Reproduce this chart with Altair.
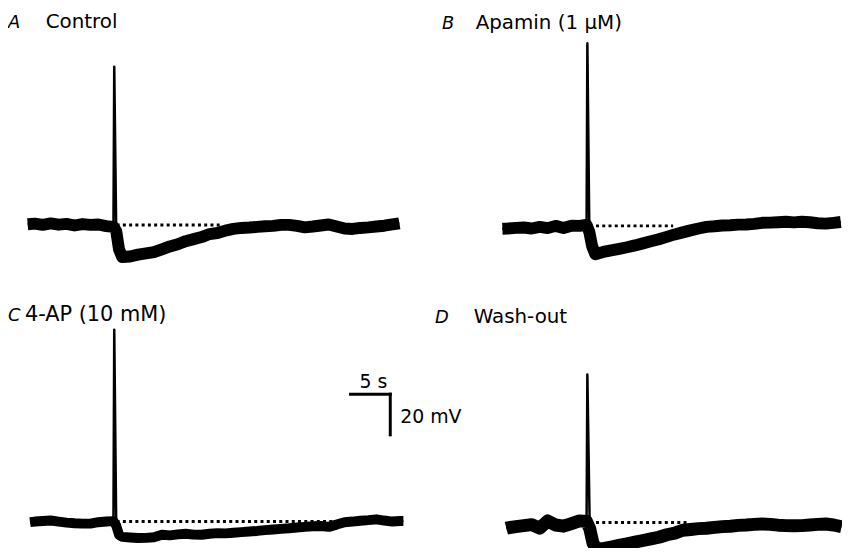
import altair as alt
import pandas as pd

# ---------------- values ----------------
# time in s relative to the spike, membrane potential in mV relative to rest
A_t = [-10.9, -10, -9, -8, -7, -6, -5, -4, -3, -2, -1, -0.1, 0, 0.25, 0.6,
       1, 2, 3, 4, 5, 6, 7, 8, 9, 10, 11, 12, 13, 14, 15, 16, 17, 18, 19, 20,
       21, 22, 23, 24, 25, 26, 27, 28, 29, 30, 31, 32, 33, 34, 35, 35.9]
A_v = [0.3, 0.6, 0, 0.7, 0.1, 0.5, -0.3, 0.4, 0, 0.2, -0.6, -1, 77.7, -3, -12,
       -15.8, -15.5, -14.6, -14, -13.4, -12, -10.6, -9.5, -8, -7, -6, -4.5, -4, -2.8, -2, -1.5, -1.3, -1, -0.7, -0.5,
       0, 0, -0.5, -1.2, -0.8, -0.3, 0.2, -0.8, -1.8, -2, -1.5, -1.2, -0.8, -0.4, 0.2, 0.8]

B_t = [-10.7, -10, -9, -8, -7, -6, -5, -4, -3, -2, -1, -0.1, 0, 0.25, 0.6,
       1, 2, 3, 4, 5, 6, 7, 8, 9, 10, 11, 12, 13, 14, 15, 16, 17, 18, 19, 20,
       21, 22, 23, 24, 25, 26, 27, 28, 29, 30, 31, 31.9]
B_v = [-1.4, -1.3, -1, -0.8, -1.3, -0.5, -1.1, 0, -1, 0.1, 0, 0.5, 89.7, -3, -10,
       -13.9, -12.8, -12, -11.3, -10.5, -9.6, -8.6, -7.6, -6.6, -5.4, -4.2, -3.2, -2.2, -1.3, -0.5, -0.2, 0.2, 0.3, 0.6, 0.7,
       1, 1.5, 1.6, 1.8, 2, 1.7, 2, 1.8, 1.3, 1.1, 1.5, 1.9]

C_t = [-10.6, -10, -9, -8, -7, -6, -5, -4, -3, -2, -1, -0.1, 0, 0.25, 0.6,
       1, 2, 3, 4, 5, 6, 7, 8, 9, 10, 11, 12, 13, 14, 15, 16, 17, 18, 19, 20,
       21, 22, 23, 24, 25, 26, 27, 28, 29, 30, 31, 32, 33, 34, 35, 36, 36.4]
C_v = [-0.3, 0, 0.3, 0.5, 0, -0.5, -0.8, -1, -1, -0.3, 0, 0.2, 94.3, -2, -6.5,
       -7.5, -7.8, -8.1, -8, -7.7, -6.5, -6.8, -6.3, -6, -6.4, -6.5, -6, -5.7, -5.8, -5.5, -5.2, -4.9, -4.6, -4.2, -3.9,
       -3.6, -3.3, -2.9, -2.6, -2.3, -2.2, -2.6, -1.5, -0.3, 0, 0.4, 0.7, 1.1, 0.5, 0, 0.3, 0.3]

D_t = [-10.2, -10, -9, -8, -7, -6, -5, -4, -3, -2, -1, -0.1, 0, 0.3, 0.7,
       1.1, 2, 3, 4, 5, 6, 7, 8, 9, 10, 11, 12, 13, 14, 15, 16, 17, 18, 19, 20,
       21, 22, 23, 24, 25, 26, 27, 28, 29, 30, 31, 32]
D_v = [-2.8, -2.6, -2, -1.5, -1, -2.8, 0.8, -1.2, -1.8, -0.5, 0.8, 0.5, 72.8, -3, -10,
       -12.9, -12.8, -12, -11.2, -10.4, -9.6, -8.8, -8, -7.2, -6, -5.2, -3.8, -3.4, -3, -2.8, -2.4, -2, -1.8, -1.4, -1.2,
       -0.9, -0.7, -0.9, -1.3, -1.5, -1.6, -1.5, -1.2, -0.9, -0.7, -1.2, -2]

# end of the dotted resting-level line (s after the spike)
dotted_end = [13.5, 10.8, 28.5, 12.7]

panel_letters = ["A", "B", "C", "D"]
panel_names = ["Control", "Apamin (1 \u03bcM)", "4-AP (10 mM)", "Wash-out"]

SCALE_T = 5     # s
SCALE_MV = 20   # mV

# ---------------- layout (pixels) ----------------
PX_PER_S = 8.0
PX_PER_MV = 2.05
W, H = 418, 265
COL_GAP, ROW_GAP = 4, 12
FONT = "DejaVu Sans"


def panel(t, v, dot_end, letter, name, spike_px, base_px, lw,
          letter_xy, name_xy, name_size, clip=False, scalebar=False):
    df = pd.DataFrame({"t": t, "v": v})
    xs = alt.Scale(domain=[-spike_px / PX_PER_S, (W - spike_px) / PX_PER_S], nice=False)
    ys = alt.Scale(domain=[-(H - base_px) / PX_PER_MV, base_px / PX_PER_MV], nice=False)
    X = alt.X("t:Q", scale=xs, axis=None)
    Y = alt.Y("v:Q", scale=ys, axis=None)

    # thick noisy trace (without the spike peak) + thin line carrying the spike
    thick = alt.Chart(df).transform_filter(
        "datum.t <= -0.1 || datum.t >= 0.25"
    ).mark_line(color="black", strokeWidth=lw, strokeJoin="round", clip=clip).encode(x=X, y=Y)
    thin = alt.Chart(df).mark_line(color="black", strokeWidth=2.5, strokeJoin="round",
                                   clip=clip).encode(x=X, y=Y)
    dots = alt.Chart(pd.DataFrame({"t": [0.3], "t2": [dot_end], "v": [0.0]})).mark_rule(
        color="black", strokeWidth=3, strokeDash=[3, 3.3]
    ).encode(x=X, x2="t2:Q", y=Y)

    letter_mark = alt.Chart(pd.DataFrame({"s": [letter]})).mark_text(
        font=FONT, fontSize=18, fontStyle="italic", align="left", baseline="alphabetic", color="black"
    ).encode(text="s:N", x=alt.value(letter_xy[0]), y=alt.value(letter_xy[1]))
    name_mark = alt.Chart(pd.DataFrame({"s": [name]})).mark_text(
        font=FONT, fontSize=name_size, align="left", baseline="alphabetic", color="black"
    ).encode(text="s:N", x=alt.value(name_xy[0]), y=alt.value(name_xy[1]))

    layers = [dots, thick, thin, letter_mark, name_mark]

    if scalebar:
        ct, cv = 34.75, 62.6  # corner of the scale bar
        bar = pd.DataFrame({"t": [ct - SCALE_T, ct], "t2": [ct, ct],
                            "v": [cv, cv], "v2": [cv, cv - SCALE_MV]})
        bars = alt.Chart(bar).mark_rule(color="black", strokeWidth=3, strokeCap="square").encode(
            x=X, x2="t2:Q", y=Y, y2="v2:Q")
        tlab = alt.Chart(pd.DataFrame({"t": [ct - SCALE_T / 2], "v": [cv], "s": [f"{SCALE_T} s"]})).mark_text(
            font=FONT, fontSize=19, align="center", baseline="alphabetic", dx=3, dy=-6, color="black"
        ).encode(x=X, y=Y, text="s:N")
        vlab = alt.Chart(pd.DataFrame({"t": [ct], "v": [cv - SCALE_MV / 2], "s": [f"{SCALE_MV} mV"]})).mark_text(
            font=FONT, fontSize=19, align="left", baseline="middle", dx=10, dy=3, color="black"
        ).encode(x=X, y=Y, text="s:N")
        layers += [bars, tlab, vlab]

    return alt.layer(*layers).properties(width=W, height=H)


pA = panel(A_t, A_v, dotted_end[0], panel_letters[0], panel_names[0], 107, 216.5, 12,
           (0, 18), (38, 18), 20)
pB = panel(B_t, B_v, dotted_end[1], panel_letters[1], panel_names[1], 161.5, 217.5, 12,
           (15, 19), (49, 19), 20)
pC = panel(C_t, C_v, dotted_end[2], panel_letters[2], panel_names[2], 107, 238.3, 10,
           (0, 36.7), (17, 36.7), 21, scalebar=True)
pD = panel(D_t, D_v, dotted_end[3], panel_letters[3], panel_names[3], 161.5, 239.3, 13,
           (8, 38.3), (47, 38.3), 20, clip=True)

chart = alt.concat(
    pA, pB, pC, pD, columns=2,
    spacing=alt.RowColnumber(row=ROW_GAP, column=COL_GAP),
    bounds="flush",
).properties(padding=0, background="white").configure_view(stroke=None)

chart.save("out.html", embed_options={"renderer": "svg", "actions": False})
